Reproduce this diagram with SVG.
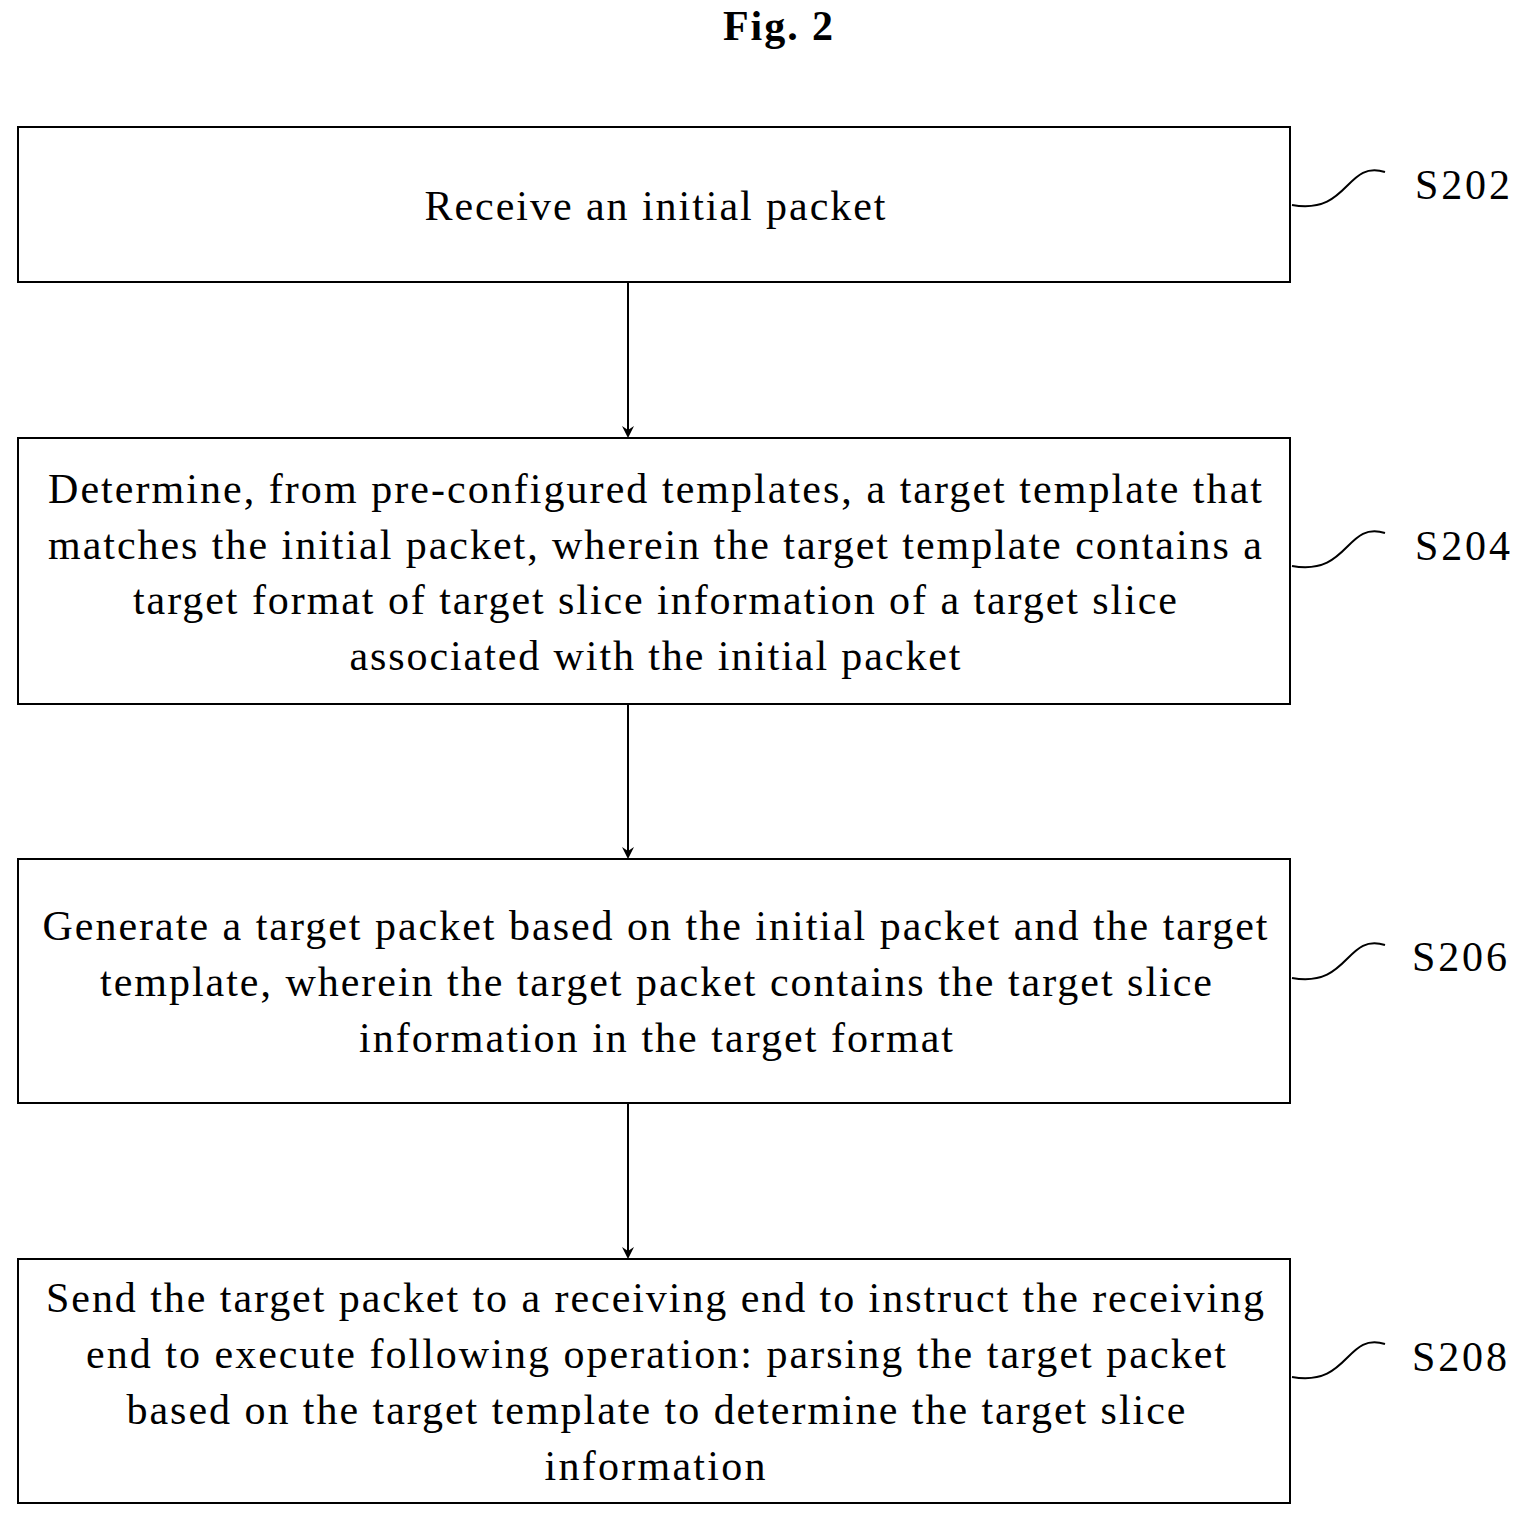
<svg xmlns="http://www.w3.org/2000/svg" width="1531" height="1524" viewBox="0 0 1531 1524">
<style>
.b{fill:#fff;stroke:#000;stroke-width:2}
.t{font-family:"Liberation Serif",serif;font-size:42px;text-anchor:middle}
.l{font-family:"Liberation Serif",serif;font-size:42px}
.c{fill:none;stroke:#000;stroke-width:2}
</style>
<defs><marker id="a" markerWidth="12" markerHeight="12" refX="10" refY="6" orient="auto" markerUnits="userSpaceOnUse"><path d="M0,0 L12,6 L0,12 L4,6 Z"/></marker></defs>
<rect width="1531" height="1524" fill="#fff"/>
<text x="778" y="40" class="t" font-weight="bold" textLength="110" lengthAdjust="spacing">Fig. 2</text>
<g id="n1"><rect class="b" x="18" y="127" width="1272" height="155"/>
<text class="t" x="655" y="220" textLength="461" lengthAdjust="spacing">Receive an initial packet</text></g>
<g id="n2"><rect class="b" x="18" y="438" width="1272" height="266"/>
<text class="t" x="655" y="503" textLength="1214" lengthAdjust="spacing">Determine, from pre-configured templates, a target template that</text>
<text class="t" x="655" y="559" textLength="1214" lengthAdjust="spacing">matches the initial packet, wherein the target template contains a</text>
<text class="t" x="655" y="614" textLength="1044" lengthAdjust="spacing">target format of target slice information of a target slice</text>
<text class="t" x="655" y="670" textLength="611" lengthAdjust="spacing">associated with the initial packet</text></g>
<g id="n3"><rect class="b" x="18" y="859" width="1272" height="244"/>
<text class="t" x="655" y="940" textLength="1225" lengthAdjust="spacing">Generate a target packet based on the initial packet and the target</text>
<text class="t" x="656" y="996" textLength="1112" lengthAdjust="spacing">template, wherein the target packet contains the target slice</text>
<text class="t" x="656" y="1052" textLength="594" lengthAdjust="spacing">information in the target format</text></g>
<g id="n4"><rect class="b" x="18" y="1259" width="1272" height="244"/>
<text class="t" x="655" y="1312" textLength="1218" lengthAdjust="spacing">Send the target packet to a receiving end to instruct the receiving</text>
<text class="t" x="656" y="1368" textLength="1140" lengthAdjust="spacing">end to execute following operation: parsing the target packet</text>
<text class="t" x="656" y="1424" textLength="1059" lengthAdjust="spacing">based on the target template to determine the target slice</text>
<text class="t" x="655" y="1480" textLength="221" lengthAdjust="spacing">information</text></g>
<g id="connectors">
<line class="c" x1="628" y1="282" x2="628" y2="436" marker-end="url(#a)"/>
<line class="c" x1="628" y1="704" x2="628" y2="857" marker-end="url(#a)"/>
<line class="c" x1="628" y1="1103" x2="628" y2="1257" marker-end="url(#a)"/>
<path class="c" d="M1292,205 C1350,215 1345,160 1385,172"/>
<path class="c" d="M1292,566 C1350,576 1345,521 1385,533"/>
<path class="c" d="M1292,978 C1350,988 1345,933 1385,945"/>
<path class="c" d="M1292,1377 C1350,1387 1345,1332 1385,1344"/>
</g>
<g id="labels">
<text class="l" x="1415" y="199" textLength="95" lengthAdjust="spacing">S202</text>
<text class="l" x="1415" y="560" textLength="95" lengthAdjust="spacing">S204</text>
<text class="l" x="1412" y="971" textLength="95" lengthAdjust="spacing">S206</text>
<text class="l" x="1412" y="1371" textLength="95" lengthAdjust="spacing">S208</text>
</g>
</svg>
